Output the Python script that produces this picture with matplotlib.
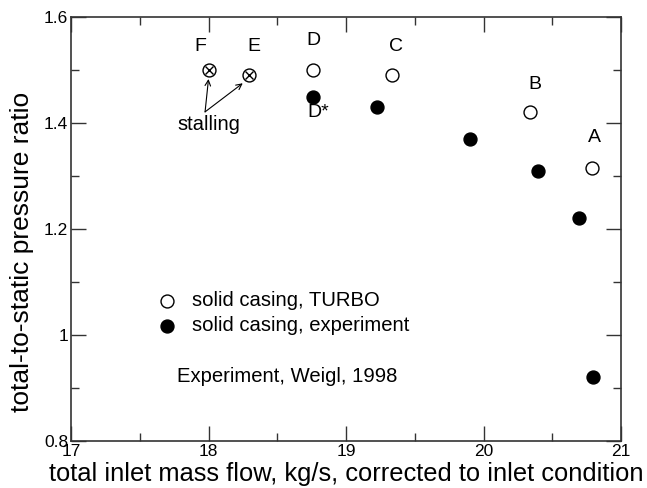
import matplotlib
matplotlib.use("Agg")
import matplotlib.pyplot as plt
from matplotlib.ticker import MultipleLocator

plt.rcParams['font.family'] = ['Liberation Sans', 'DejaVu Sans']

# TURBO (open circles)
turbo_x = [18.758, 19.337, 20.338, 20.789]
turbo_y = [1.500, 1.490, 1.420, 1.316]
# experiment (filled)
exp_x = [18.758, 19.228, 19.900, 20.396, 20.697, 20.799]
exp_y = [1.450, 1.431, 1.370, 1.310, 1.220, 0.920]
# stall points
stall_x = [18.00, 18.292]
stall_y = [1.500, 1.491]

point_labels = ["F", "E", "D", "C", "B", "A", "D*"]
label_x = [17.94, 18.33, 18.76, 19.36, 20.375, 20.81, 18.80]
label_y = [1.545, 1.545, 1.555, 1.545, 1.472, 1.373, 1.420]

fig = plt.figure(figsize=(6.47, 4.88), dpi=100)
ax = fig.add_axes([71/647, 1 - 441/488, (621-71)/647, (441-17)/488])

ax.plot(turbo_x, turbo_y, 'o', ms=9.3, mfc='white', mec='black', mew=1.0, ls='none')
ax.plot(exp_x, exp_y, 'o', ms=9.3, mfc='black', mec='black', ls='none')
ax.plot(stall_x, stall_y, 'o', ms=9.3, mfc='white', mec='black', mew=1.0, ls='none')
ax.plot(stall_x, stall_y, 'x', ms=6, mec='black', mew=1.0, ls='none')

for t, x, y in zip(point_labels, label_x, label_y):
    ax.text(x, y, t, fontsize=14, ha='center', va='center')

ax.text(18.0, 1.398, "stalling", fontsize=14.5, ha='center', va='center')
ax.annotate("", xy=(18.0, 1.483), xytext=(17.975, 1.421),
            arrowprops=dict(arrowstyle='->', lw=0.8, color='black', shrinkA=0, shrinkB=0))
ax.annotate("", xy=(18.249, 1.475), xytext=(17.975, 1.421),
            arrowprops=dict(arrowstyle='->', lw=0.8, color='black', shrinkA=0, shrinkB=0))

# legend drawn manually
ax.plot([17.695], [1.065], 'o', ms=9.3, mfc='white', mec='black', mew=1.0)
ax.plot([17.695], [1.017], 'o', ms=9.3, mfc='black', mec='black')
ax.text(17.878, 1.065, "solid casing, TURBO", fontsize=14.6, va='center')
ax.text(17.878, 1.017, "solid casing, experiment", fontsize=14.6, va='center')
ax.text(17.768, 0.921, "Experiment, Weigl, 1998", fontsize=14.6, va='center')

ax.set_xlim(17, 21)
ax.set_ylim(0.8, 1.6)
ax.xaxis.set_minor_locator(MultipleLocator(0.5))
ax.yaxis.set_minor_locator(MultipleLocator(0.1))
ax.set_xticks([17, 18, 19, 20, 21])
ax.set_xticklabels(["17", "18", "19", "20", "21"])
ax.set_yticks([0.8, 1.0, 1.2, 1.4, 1.6])
ax.set_yticklabels(["0.8", "1", "1.2", "1.4", "1.6"])
ax.tick_params(which='both', direction='in', top=True, right=True, labelsize=12.5, pad=2, color='#333333')
ax.tick_params(which='major', length=11, width=1)
ax.tick_params(which='minor', length=6, width=1)
for s in ax.spines.values():
    s.set_color('#333333')
    s.set_linewidth(1.2)

ax.set_xlabel("total inlet mass flow, kg/s, corrected to inlet condition", fontsize=18.4, labelpad=2.5)
ax.set_ylabel("total-to-static pressure ratio", fontsize=19)
ax.yaxis.set_label_coords(-0.067, 0.446)

fig.savefig("out.png", dpi=100)
